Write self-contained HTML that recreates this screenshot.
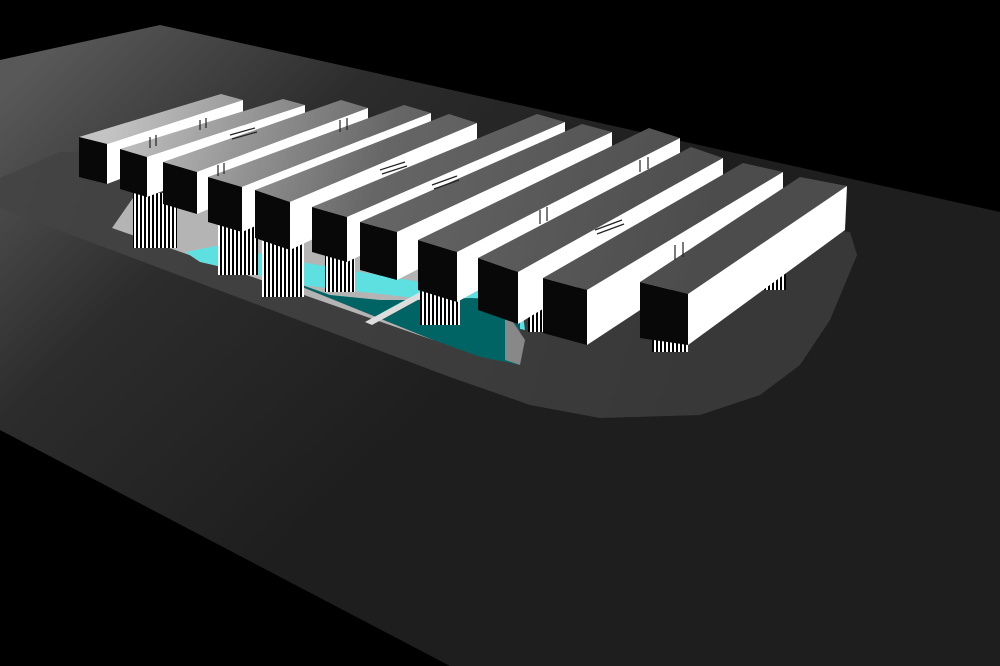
<!DOCTYPE html>
<html><head><meta charset="utf-8"><style>html,body{margin:0;padding:0;background:#000}svg{display:block}</style></head>
<body>
<svg width="1000" height="666" viewBox="0 0 1000 666" xmlns="http://www.w3.org/2000/svg">
<defs>
<linearGradient id="plate" gradientUnits="userSpaceOnUse" x1="60" y1="40" x2="420" y2="420">
<stop offset="0" stop-color="#585858"/><stop offset="0.45" stop-color="#2c2c2c"/><stop offset="1" stop-color="#1e1e1e"/>
</linearGradient>
<linearGradient id="plat" gradientUnits="userSpaceOnUse" x1="0" y1="170" x2="700" y2="400">
<stop offset="0" stop-color="#444"/><stop offset="1" stop-color="#383838"/>
</linearGradient>
<linearGradient id="top" gradientUnits="userSpaceOnUse" x1="120" y1="90" x2="700" y2="260">
<stop offset="0" stop-color="#c4c4c4"/><stop offset="0.45" stop-color="#666"/><stop offset="1" stop-color="#4c4c4c"/>
</linearGradient>
<pattern id="st" width="4" height="10" patternUnits="userSpaceOnUse">
<rect width="4" height="10" fill="#fff"/><rect width="2" height="10" fill="#000"/>
</pattern>
</defs>
<rect width="1000" height="666" fill="#000"/>
<polygon points="0,60 160,25 1000,212 1000,666 450,666 0,430" fill="url(#plate)"/>
<polygon points="0,178 60,152 80,152 850,232 857,255 830,320 800,365 760,395 700,415 600,418 530,405 450,377 0,208" fill="url(#plat)"/>
<polygon points="112,228 135,195 300,215 520,280 520,352 433,340 112,228" fill="#b4b4b4"/>
<polygon points="185,252 220,245 300,262 420,282 520,292 525,330 480,320 433,300 300,285 200,262" fill="#5fe0e0"/>
<polygon points="260,270 330,295 380,300 430,300 470,298 520,300 520,365 480,357 433,340" fill="#006464"/>
<polygon points="505,310 525,340 520,365 505,360" fill="#888"/>
<polygon points="365,322 420,292 425,296 372,325" fill="#ddd"/>
<rect x="133" y="193" width="44" height="55" fill="url(#st)"/>
<rect x="218" y="220" width="40" height="55" fill="url(#st)"/>
<rect x="262" y="235" width="42" height="62" fill="url(#st)"/>
<rect x="325" y="255" width="30" height="37" fill="url(#st)"/>
<rect x="420" y="290" width="40" height="35" fill="url(#st)"/>
<rect x="528" y="300" width="22" height="32" fill="url(#st)"/>
<rect x="652" y="330" width="36" height="22" fill="url(#st)"/>
<rect x="762" y="270" width="24" height="20" fill="url(#st)"/>
<g stroke="none">
<polygon points="79,137 107,144 243,100 221,94" fill="url(#top)"/><polygon points="107,144 107,184 243,132 243,100" fill="#fff"/><polygon points="79,137 107,144 107,184 79,177" fill="#080808"/>
<polygon points="120,149 147,157 305,105 283,99" fill="url(#top)"/><polygon points="147,157 147,197 305,137 305,105" fill="#fff"/><polygon points="120,149 147,157 147,197 120,189" fill="#080808"/>
<polygon points="163,162 197,172 368,108 341,100" fill="url(#top)"/><polygon points="197,172 197,214 368,142 368,108" fill="#fff"/><polygon points="163,162 197,172 197,214 163,204" fill="#080808"/>
<polygon points="208,177 242,187 431,113 404,105" fill="url(#top)"/><polygon points="242,187 242,232 431,149 431,113" fill="#fff"/><polygon points="208,177 242,187 242,232 208,222" fill="#080808"/>
<polygon points="255,190 290,202 477,123 449,114" fill="url(#top)"/><polygon points="290,202 290,250 477,161 477,123" fill="#fff"/><polygon points="255,190 290,202 290,250 255,238" fill="#080808"/>
<polygon points="312,207 347,217 565,122 537,114" fill="url(#top)"/><polygon points="347,217 347,262 565,158 565,122" fill="#fff"/><polygon points="312,207 347,217 347,262 312,252" fill="#080808"/>
<polygon points="360,222 397,232 612,132 582,124" fill="url(#top)"/><polygon points="397,232 397,280 612,170 612,132" fill="#fff"/><polygon points="360,222 397,232 397,280 360,270" fill="#080808"/>
<polygon points="418,240 457,252 680,138 649,128" fill="url(#top)"/><polygon points="457,252 457,302 680,178 680,138" fill="#fff"/><polygon points="418,240 457,252 457,302 418,290" fill="#080808"/>
<polygon points="478,258 518,272 723,158 691,147" fill="url(#top)"/><polygon points="518,272 518,324 723,200 723,158" fill="#fff"/><polygon points="478,258 518,272 518,324 478,310" fill="#080808"/>
<polygon points="543,278 587,290 783,172 743,163" fill="url(#top)"/><polygon points="587,290 587,345 783,216 783,172" fill="#fff"/><polygon points="543,278 587,290 587,345 543,333" fill="#080808"/>
<polygon points="640,282 688,294 847,186 800,177" fill="url(#top)"/><polygon points="688,294 688,345 845,230 847,186" fill="#fff"/><polygon points="640,282 688,294 688,345 640,338" fill="#080808"/>
</g>
<g stroke="#222" stroke-width="1.2">
<line x1="150" y1="137" x2="150" y2="148"/><line x1="156" y1="135" x2="156" y2="146"/><line x1="200" y1="120" x2="200" y2="130"/><line x1="206" y1="118" x2="206" y2="128"/>
<line x1="230" y1="135" x2="255" y2="128"/><line x1="232" y1="139" x2="257" y2="132"/>
<line x1="218" y1="165" x2="218" y2="176"/><line x1="224" y1="163" x2="224" y2="174"/><line x1="340" y1="120" x2="340" y2="132"/><line x1="347" y1="118" x2="347" y2="130"/>
<line x1="380" y1="170" x2="405" y2="162"/><line x1="382" y1="174" x2="407" y2="166"/>
<line x1="432" y1="185" x2="457" y2="176"/><line x1="434" y1="189" x2="459" y2="180"/>
<line x1="540" y1="210" x2="540" y2="224"/><line x1="547" y1="207" x2="547" y2="221"/>
<line x1="595" y1="230" x2="622" y2="220"/><line x1="597" y1="234" x2="624" y2="224"/>
<line x1="640" y1="160" x2="640" y2="172"/><line x1="648" y1="157" x2="648" y2="169"/>
<line x1="675" y1="245" x2="675" y2="260"/><line x1="683" y1="242" x2="683" y2="257"/>
</g>
</svg>
</body></html>
